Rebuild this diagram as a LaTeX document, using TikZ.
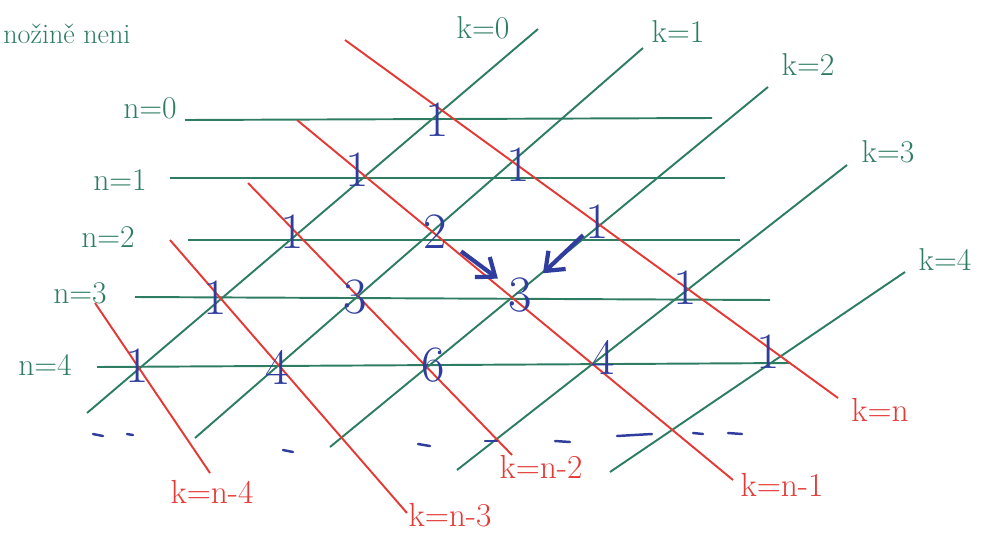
\documentclass[tikz,border=0pt]{standalone}
\usepackage{tikz}
\usetikzlibrary{arrows.meta}
\definecolor{pen}{HTML}{2E7D62}
\definecolor{redpen}{HTML}{E53935}
\definecolor{bluepen}{HTML}{2F3E9E}

\begin{document}
\begin{tikzpicture}[x=0.2mm,y=-0.2mm,
  grid/.style={pen,line width=1.1pt},
  anti/.style={redpen,line width=1.1pt},
  lab/.style={font=\fontsize{18}{20}\selectfont,inner sep=0pt},
  num/.style={bluepen,font=\fontsize{29}{31}\selectfont,inner sep=0pt},
  push/.style={bluepen,line width=2.4pt,-{Straight Barb[length=3.2mm,width=5mm]}}]
  \useasboundingbox (0,0) rectangle (985,540);

  \node[lab,pen,anchor=west,font=\fontsize{16}{18}\selectfont] (note) at (3,34) {nožině neni};

  \foreach \n/\lx/\ly/\xa/\ya/\xb/\yb in {0/150/108/185/120/712/118, 1/120/180/170/178/725/178,
      2/108/237/188/240/740/240, 3/80/293/135/297/770/300, 4/45/365/97/367/790/363} {
    \node[lab,pen] (n\n) at (\lx,\ly) {n=\n};
    \coordinate (r\n w) at (\xa,\ya);
    \coordinate (r\n e) at (\xb,\yb);
    \draw[grid] (r\n w) -- (r\n e);
  }

  \foreach \k/\lx/\ly/\xa/\ya/\xb/\yb in {0/483/28/87/413/538/29, 1/678/32/195/438/643/48,
      2/808/65/330/447/768/87, 3/888/152/457/470/847/165, 4/945/260/610/472/905/272} {
    \node[lab,pen] (k\k) at (\lx,\ly) {k=\k};
    \coordinate (d\k s) at (\xa,\ya);
    \coordinate (d\k e) at (\xb,\yb);
    \draw[grid] (d\k s) -- (d\k e);
  }

  \foreach \j/\txt/\lx/\ly/\xa/\ya/\xb/\yb in {0/k=n/880/410/345/40/838/398, 1/k=n-1/782/485/297/120/733/480,
      2/k=n-2/541/467/248/183/512/455, 3/k=n-3/450/515/170/240/407/513, 4/k=n-4/212/492/95/303/210/473} {
    \node[lab,redpen,font=\fontsize{19}{21}\selectfont] (m\j) at (\lx,\ly) {\txt};
    \coordinate (a\j s) at (\xa,\ya);
    \coordinate (a\j e) at (\xb,\yb);
    \draw[anti] (a\j s) -- (a\j e);
  }

  \node[num] (t00) at (437,120) {1};
  \node[num] (t10) at (357,170) {1};
  \node[num] (t11) at (518,165) {1};
  \node[num] (t20) at (292,232) {1};
  \node[num] (t21) at (435,232) {2};
  \node[num] (t22) at (597,222) {1};
  \node[num] (t30) at (215,298) {1};
  \node[num] (t31) at (355,297) {3};
  \node[num] (t32) at (520,295) {3};
  \node[num] (t33) at (685,288) {1};
  \node[num] (t40) at (137,366) {1};
  \node[num] (t41) at (277,367) {4};
  \node[num] (t42) at (433,365) {6};
  \node[num] (t43) at (603,357) {4};
  \node[num] (t44) at (768,352) {1};

  \draw[push,shorten <=3.5mm,shorten >=2.5mm] (t21) -- (t32);
  \draw[push,shorten <=0.5mm,shorten >=3mm] (t22) -- (t32);

  \foreach \xa/\ya/\xb/\yb in {93/434/103/436, 127/434/133/435, 283/450/293/452, 418/444/430/446,
      485/441/497/441, 555/441/570/442, 617/436/652/434, 693/433/703/434, 728/433/742/434}
    \draw[bluepen,line width=1.4pt,line cap=round] (\xa,\ya) -- (\xb,\yb);
\end{tikzpicture}
\end{document}
